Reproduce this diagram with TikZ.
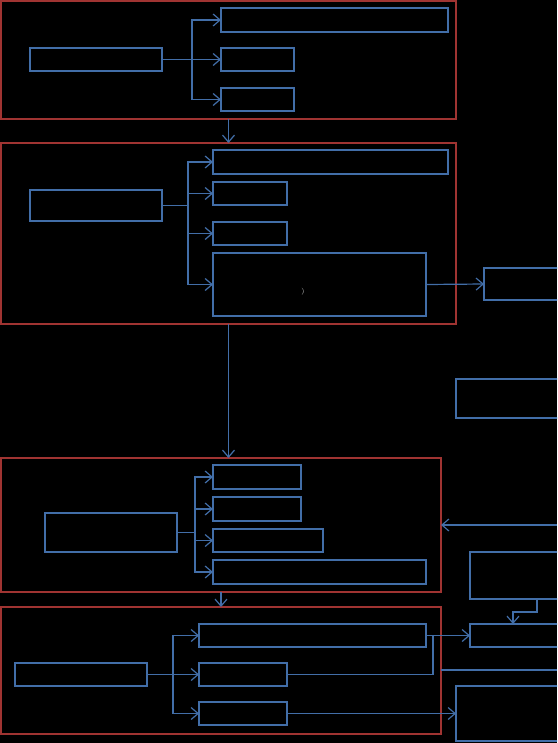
\documentclass[tikz,border=0pt]{standalone}
\usepackage{tikz}
\usetikzlibrary{arrows.meta, positioning, calc}

\definecolor{framered}{RGB}{160,52,50}
\definecolor{boxblue}{RGB}{66,110,168}

\begin{document}
\begin{tikzpicture}[
  x=1pt, y=-1pt,
  frame/.style={draw=framered, line width=2.2pt, anchor=north west, inner sep=0pt, outer sep=0pt},
  box/.style={draw=boxblue, line width=2pt, anchor=north west, inner sep=0pt, outer sep=0pt},
  line/.style={draw=boxblue, line width=1.2pt},
  arrow/.style={line, -{Straight Barb[length=7pt, width=12pt]}}
]
\fill[black] (0,0) rectangle (557,743);
\clip (0,0) rectangle (557,743);

% the four stages
\node[frame, minimum width=455, minimum height=118] (g1) at (1,1) {};
\node[frame, minimum width=455, minimum height=181] (g2) at (1,143) {};
\node[frame, minimum width=440, minimum height=134] (g3) at (1,458) {};
\node[frame, minimum width=440, minimum height=127] (g4) at (1,607) {};

% stage 1
\node[box, minimum width=132, minimum height=23] (a1) at (30,48) {};
\node[box, minimum width=227, minimum height=24] (b1) at (221,8) {};
\node[box, minimum width=73, minimum height=23] (b2) at (221,48) {};
\node[box, minimum width=73, minimum height=23] (b3) at (221,88) {};
\foreach \n in {b1,b2,b3}
  \draw[arrow] (a1.east) -- ++(30,0) |- (\n.west);

% stage 2
\node[box, minimum width=132, minimum height=31] (a2) at (30,190) {};
\node[box, minimum width=235, minimum height=24] (c1) at (213,150) {};
\node[box, minimum width=74, minimum height=23] (c2) at (213,182) {};
\node[box, minimum width=74, minimum height=23] (c3) at (213,222) {};
\node[box, minimum width=213, minimum height=63] (c4) at (213,253) {};
\node[text=white!80!black, font=\scriptsize] (paren) at (303,292) {)};
\foreach \n in {c1,c2,c3,c4}
  \draw[arrow] (a2.east) -- ++(26,0) |- (\n.west);

% stage 3
\node[box, minimum width=132, minimum height=39] (a3) at (45,513) {};
\node[box, minimum width=88, minimum height=24] (d1) at (213,465) {};
\node[box, minimum width=88, minimum height=24] (d2) at (213,497) {};
\node[box, minimum width=110, minimum height=23] (d3) at (213,529) {};
\node[box, minimum width=213, minimum height=24] (d4) at (213,560) {};
\foreach \n in {d1,d2,d3,d4}
  \draw[arrow] (a3.east) -- ++(18,0) |- (\n.west);

% stage 4
\node[box, minimum width=132, minimum height=23] (a4) at (15,663) {};
\node[box, minimum width=227, minimum height=23] (e1) at (199,624) {};
\node[box, minimum width=88, minimum height=23] (e2) at (199,663) {};
\node[box, minimum width=88, minimum height=23] (e3) at (199,702) {};
\foreach \n in {e1,e2,e3}
  \draw[arrow] (a4.east) -- ++(26,0) |- (\n.west);

% boxes on the right
\node[box, minimum width=100, minimum height=32] (r1) at (484,268) {};
\node[box, minimum width=120, minimum height=39] (r2) at (456,379) {};
\node[box, minimum width=110, minimum height=47] (r3) at (470,552) {};
\node[box, minimum width=110, minimum height=23] (r4) at (470,624) {};
\node[box, minimum width=120, minimum height=55] (r5) at (456,686) {};

% links between stages
\draw[arrow] (g1.south) -- (g2.north);
\draw[arrow] (g2.south) -- (g2.south |- g3.north);
\draw[arrow] (g3.south) -- (g4.north);

% links to the right
\coordinate (in3) at (557,525);
\coordinate (out4) at (557,670);
\coordinate (j4) at (433,635);
\coordinate (r3b) at (537,599);
\coordinate (r4t) at (513,624);
\draw[arrow] (c4.east) -- (r1.west);
\draw[arrow] (in3) -- (g3.east |- in3);
\draw[arrow] (r3b) -- ++(0,13) -| (r4t);
\draw[arrow] (e1.east) -- (r4.west);
\draw[line] (e2.east) -| (j4);
\draw[line] (g4.east |- out4) -- (out4);
\draw[arrow] (e3.east) -- (r5.west);
\end{tikzpicture}
\end{document}
